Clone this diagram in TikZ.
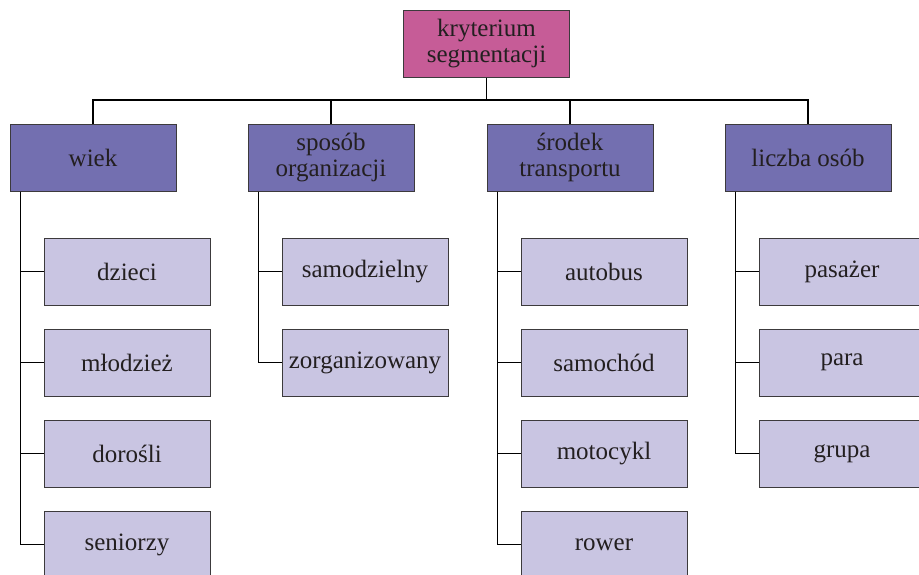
\documentclass[tikz,border=0pt]{standalone}
\usepackage{fontspec}
\setmainfont{Liberation Serif}
\definecolor{topfill}{HTML}{C65C97}
\definecolor{catfill}{HTML}{736FB0}
\definecolor{subfill}{HTML}{C9C5E2}
\definecolor{edge}{HTML}{3C3A3C}
\definecolor{txt}{HTML}{231F20}
\begin{document}
\begin{tikzpicture}[x=0.5pt,y=-0.5pt,
  box/.style={draw=edge,line width=0.5pt,minimum width=83pt,minimum height=33.5pt,
    inner sep=0pt,align=center,text=txt,font=\fontsize{12.5}{13}\selectfont},
  topbox/.style={box,fill=topfill},
  catbox/.style={box,fill=catfill},
  subbox/.style={box,fill=subfill},
  link/.style={draw=black,line width=0.7pt}]
\useasboundingbox (0,0) rectangle (919,574);
\clip (0,0) rectangle (919,574);
% top
\node[topbox] (top) at (486.5,43.5) {kryterium\\segmentacji};
\coordinate (bus) at (486.5,100);
% categories
\node[catbox] (c1) at (93,157.5) {wiek};
\node[catbox] (c2) at (331,157.5) {sposób\\organizacji};
\node[catbox] (c3) at (570,157.5) {środek\\transportu};
\node[catbox] (c4) at (808,157.5) {liczba osób};
% children
\node[subbox] (c1a) at (127,271.5) {dzieci};
\node[subbox] (c1b) at (127,362.5) {młodzież};
\node[subbox] (c1c) at (127,453.5) {dorośli};
\node[subbox] (c1d) at (127,544.5) {seniorzy};
\node[subbox] (c2a) at (365,271.5) {samodzielny};
\node[subbox] (c2b) at (365,362.5) {zorganizowany};
\node[subbox] (c3a) at (604,271.5) {autobus};
\node[subbox] (c3b) at (604,362.5) {samochód};
\node[subbox] (c3c) at (604,453.5) {motocykl};
\node[subbox] (c3d) at (604,544.5) {rower};
\node[subbox] (c4a) at (842,271.5) {pasażer};
\node[subbox] (c4b) at (842,362.5) {para};
\node[subbox] (c4c) at (842,453.5) {grupa};
% connectors top
\draw[link] (top.south) -- (bus);
\draw[link] (c1.north) |- (bus) -| (c4.north);
\draw[link] (c2.north) -- (c2.north |- bus);
\draw[link] (c3.north) -- (c3.north |- bus);
% connectors children
\foreach \p/\c in {c1/c1a,c1/c1b,c1/c1c,c1/c1d,c2/c2a,c2/c2b,c3/c3a,c3/c3b,c3/c3c,c3/c3d,c4/c4a,c4/c4b,c4/c4c}
  \draw[link] ([xshift=5.5pt]\p.south west) |- (\c.west);
\end{tikzpicture}
\end{document}
